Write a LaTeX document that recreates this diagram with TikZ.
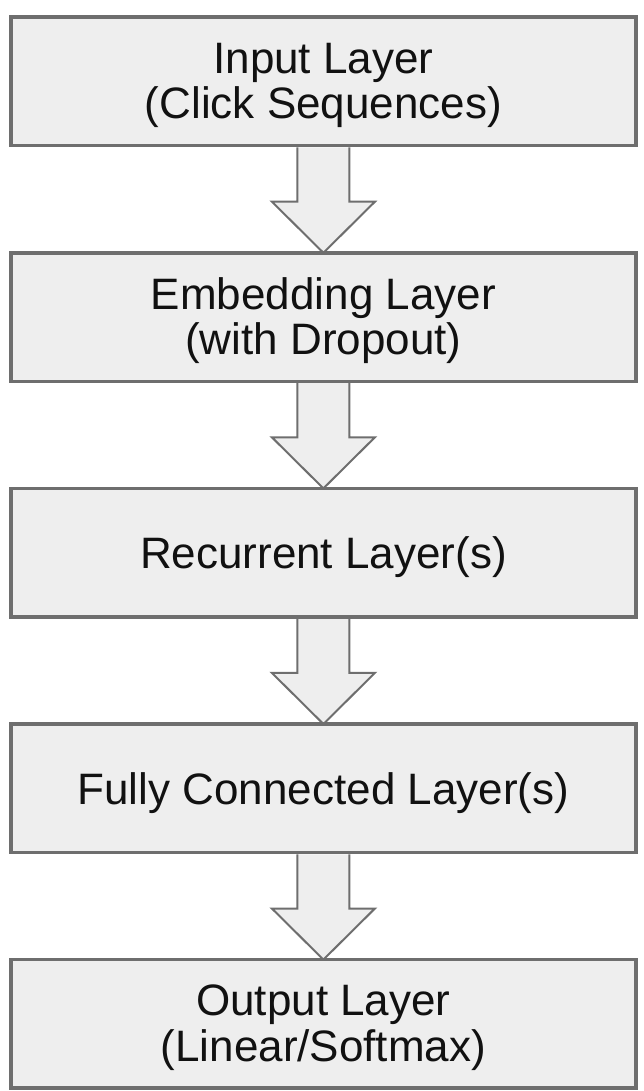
\documentclass[tikz,border=0pt]{standalone}
\usepackage{fontspec}
\setmainfont{Liberation Sans}
\usetikzlibrary{calc,backgrounds}
\definecolor{boxfill}{HTML}{EEEEEE}
\definecolor{boxline}{HTML}{6E6E6E}
\definecolor{txt}{HTML}{111111}
\begin{document}
\begin{tikzpicture}[x=1pt,y=1pt,
  layerbox/.style={draw=boxline, fill=boxfill, line width=3.5pt,
    minimum width=625.2pt, minimum height=128.5pt, inner sep=0pt, outer sep=0pt},
  lbl/.style={anchor=base, text=txt, font=\fontsize{44}{45.5}\selectfont, inner sep=0pt},
  fatarrow/.style={draw=boxline, fill=boxfill, line width=2pt, line join=miter}]
\useasboundingbox (0,0) rectangle (644,-1091);
\node[layerbox] (b0) at (323.4,-81.45) {};
\node[layerbox] (b1) at (323.4,-317.05) {};
\node[layerbox] (b2) at (323.4,-552.65) {};
\node[layerbox] (b3) at (323.4,-788.25) {};
\node[layerbox] (b4) at (323.4,-1023.85) {};
\node[lbl] (t0a) at ($(b0.center)+(0,8)$) {Input Layer};
\node[lbl] (t0b) at ($(b0.center)+(0,-37.5)$) {(Click Sequences)};
\node[lbl] (t1a) at ($(b1.center)+(0,8)$) {Embedding Layer};
\node[lbl] (t1b) at ($(b1.center)+(0,-37.5)$) {(with Dropout)};
\node[lbl] (t2a) at ($(b2.center)+(0,-15.75)$) {Recurrent Layer(s)};
\node[lbl] (t3a) at ($(b3.center)+(0,-15.75)$) {Fully Connected Layer(s)};
\node[lbl] (t4a) at ($(b4.center)+(0,8)$) {Output Layer};
\node[lbl] (t4b) at ($(b4.center)+(0,-37.5)$) {(Linear/Softmax)};
\begin{scope}[on background layer]
\foreach \u/\v in {b0/b1,b1/b2,b2/b3,b3/b4}{
  \filldraw[fatarrow] ($(\u.south)+(-26,-1.75)$) -- ($(\u.south)+(-26,-56)$)
    -- ($(\u.south)+(-51.5,-56)$) -- (\v.north) -- ($(\u.south)+(51.5,-56)$)
    -- ($(\u.south)+(26,-56)$) -- ($(\u.south)+(26,-1.75)$);
}
\end{scope}
\end{tikzpicture}
\end{document}
